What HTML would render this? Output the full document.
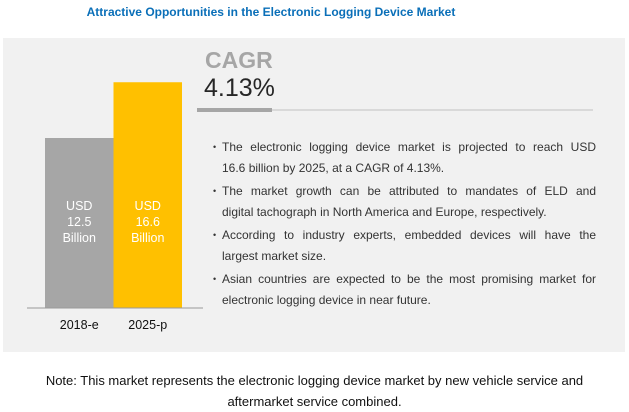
<!DOCTYPE html>
<html><head><meta charset="utf-8"><style>
body{margin:0;width:629px;height:411px;background:#fff;font-family:"Liberation Sans",sans-serif;position:relative;overflow:hidden}
.abs{position:absolute}
#title{left:0;width:542px;top:5px;text-align:center;font-weight:bold;color:#0a6fb8;font-size:12px}
#panel{left:3px;top:38px;width:622px;height:314px;background:#f1f1f1}
.b{position:absolute;left:213px;width:383px;font-size:12px;color:#333;line-height:20.5px}
.b div{padding-left:9px;white-space:nowrap}
.b .j{text-align:justify;text-align-last:justify;white-space:normal;position:relative}
.b .j:before{content:"•";position:absolute;left:0;font-size:9px}
#note{left:0;width:629px;top:370px;text-align:center;font-size:13px;line-height:21px;color:#111}
</style></head><body>
<div id="title" class="abs">Attractive Opportunities in the Electronic Logging Device Market</div>
<div id="panel" class="abs"></div>
<svg class="abs" style="left:0;top:0" width="629" height="411" id="chart"></svg>
<div class="abs" style="left:205px;top:47px;font-size:23px;font-weight:bold;color:#a6a6a6">CAGR</div>
<div class="abs" style="left:204px;top:74px;font-size:25px;color:#262626">4.13%</div>
<div class="abs" style="left:197px;top:109px;width:396px;height:2px;background:#d9d9d9"></div>
<div class="abs" style="left:197px;top:108px;width:75px;height:4px;background:#a6a6a6"></div>
<div class="b" style="top:137px"><div class="j">The electronic logging device market is projected to reach USD</div><div>16.6 billion by 2025, at a CAGR of 4.13%.</div></div>
<div class="b" style="top:181px"><div class="j">The market growth can be attributed to mandates of ELD and</div><div>digital tachograph in North America and Europe, respectively.</div></div>
<div class="b" style="top:225px"><div class="j">According to industry experts, embedded devices will have the</div><div>largest market size.</div></div>
<div class="b" style="top:269px"><div class="j">Asian countries are expected to be the most promising market for</div><div>electronic logging device in near future.</div></div>
<div id="note" class="abs">Note: This market represents the electronic logging device market by new vehicle service and<br>aftermarket service combined.</div>
<script>
const categories=["2018-e","2025-p"];
const values=[12.5,16.6];
const valueLabels=["12.5","16.6"];
const colors=["#a6a6a6","#ffc000"];
const NS="http://www.w3.org/2000/svg";
const svg=document.getElementById("chart");
const base=308,scale=13.6,x0=45,bw=68.5;
const y=v=>base-v*scale;
function mk(t,a){const e=document.createElementNS(NS,t);for(const k in a)e.setAttribute(k,a[k]);svg.appendChild(e);return e;}
categories.forEach((c,i)=>{
  const x=x0+i*bw;
  const r=mk("rect",{x:x,y:y(values[i]),width:bw,height:base-y(values[i]),fill:colors[i]});
  
  
  ["USD",valueLabels[i],"Billion"].forEach((s,j)=>{
    const t=mk("text",{x:x+bw/2,y:210+j*16,"text-anchor":"middle","font-size":"12.5","fill":"#fff","font-family":"Liberation Sans"});
    t.textContent=s;
    
    
  });
  const l=mk("text",{x:x+bw/2,y:329,"text-anchor":"middle","font-size":"12.5","fill":"#111","font-family":"Liberation Sans"});
  l.textContent=c;
  
  
});
const ax=mk("line",{x1:27,x2:203,y1:base,y2:base,stroke:"#999","stroke-width":1});


</script>
</body></html>
